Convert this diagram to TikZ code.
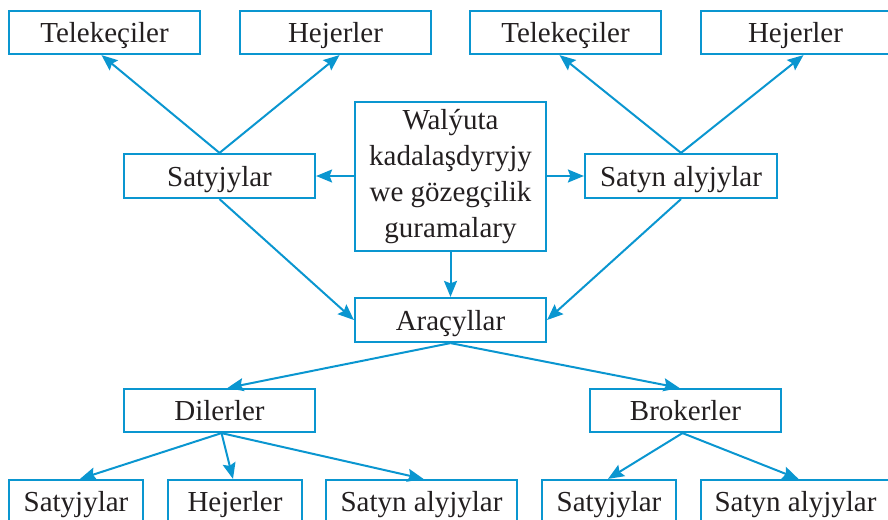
\documentclass[tikz,border=0pt]{standalone}
\usepackage{fontspec}
\setmainfont{Liberation Serif}
\usetikzlibrary{arrows.meta,calc}
\definecolor{lineblue}{RGB}{10,150,208}
\definecolor{txt}{RGB}{35,31,32}
\begin{document}
\begin{tikzpicture}[x=1pt,y=-1pt,
  basebox/.style={draw=lineblue,line width=2.2pt,inner sep=0pt,align=center,
    text=txt,font=\fontsize{29}{36}\selectfont,minimum height=43pt},
  box/.style={basebox,text height=20pt,text depth=0pt},
  arr/.style={draw=lineblue,line width=2pt,-{Stealth[length=16pt,width=13pt,inset=2.5pt]}}]
\useasboundingbox (0,0) rectangle (888,519);
% top row
\node[box,minimum width=191pt] (t1) at (104.5,32.5) {Telekeçiler};
\node[box,minimum width=191pt] (h1) at (335.5,32.5) {Hejerler};
\node[box,minimum width=191pt] (t2) at (565.5,32.5) {Telekeçiler};
\node[box,minimum width=189pt] (h2) at (795.5,32.5) {Hejerler};
% second row
\node[box,minimum width=191pt,minimum height=44pt] (s1) at (219.5,176) {Satyjylar};
\node[basebox,minimum width=191pt,minimum height=149pt] (c) at (450.5,176.5) {Walýuta\\kadalaşdyryjy\\we gözegçilik\\guramalary};
\node[box,minimum width=192pt,minimum height=44pt] (s2) at (681,176) {Satyn alyjylar};
% third row
\node[box,minimum width=191pt,minimum height=44pt] (a) at (450.5,320) {Araçyllar};
% fourth row
\node[box,minimum width=191pt] (d) at (219.5,410.5) {Dilerler};
\node[box,minimum width=191pt] (b) at (685.5,410.5) {Brokerler};
% bottom row
\node[box,minimum width=134pt] (bs1) at (76,501.5) {Satyjylar};
\node[box,minimum width=134pt] (bh) at (235,501.5) {Hejerler};
\node[box,minimum width=191pt] (bsa1) at (421.5,501.5) {Satyn alyjylar};
\node[box,minimum width=134pt] (bs2) at (609,501.5) {Satyjylar};
\node[box,minimum width=189pt] (bsa2) at (795.5,501.5) {Satyn alyjylar};
% connectors
\draw[arr] (s1.north) -- ([xshift=-3pt]t1.south);
\draw[arr] (s1.north) -- ([xshift=4pt]h1.south);
\draw[arr] (s2.north) -- ([xshift=-6pt]t2.south);
\draw[arr] (s2.north) -- ([xshift=8pt]h2.south);
\draw[arr] (c.west |- s1.east) -- (s1.east);
\draw[arr] (c.east |- s2.west) -- (s2.west);
\draw[arr] (c.south) -- (a.north);
\draw[arr] (s1.south) -- (a.west);
\draw[arr] (s2.south) -- (a.east);
\draw[arr] (a.south) -- ([xshift=8pt]d.north);
\draw[arr] (a.south) -- ([xshift=-6pt]b.north);
\draw[arr] ([xshift=2pt]d.south) -- ([xshift=4pt]bs1.north);
\draw[arr] ([xshift=2pt]d.south) -- ([xshift=-2pt]bh.north);
\draw[arr] ([xshift=2pt]d.south) -- ([xshift=2pt]bsa1.north);
\draw[arr] ([xshift=-3pt]b.south) -- ([xshift=-1pt]bs2.north);
\draw[arr] ([xshift=-3pt]b.south) -- ([xshift=3pt]bsa2.north);
\end{tikzpicture}
\end{document}
